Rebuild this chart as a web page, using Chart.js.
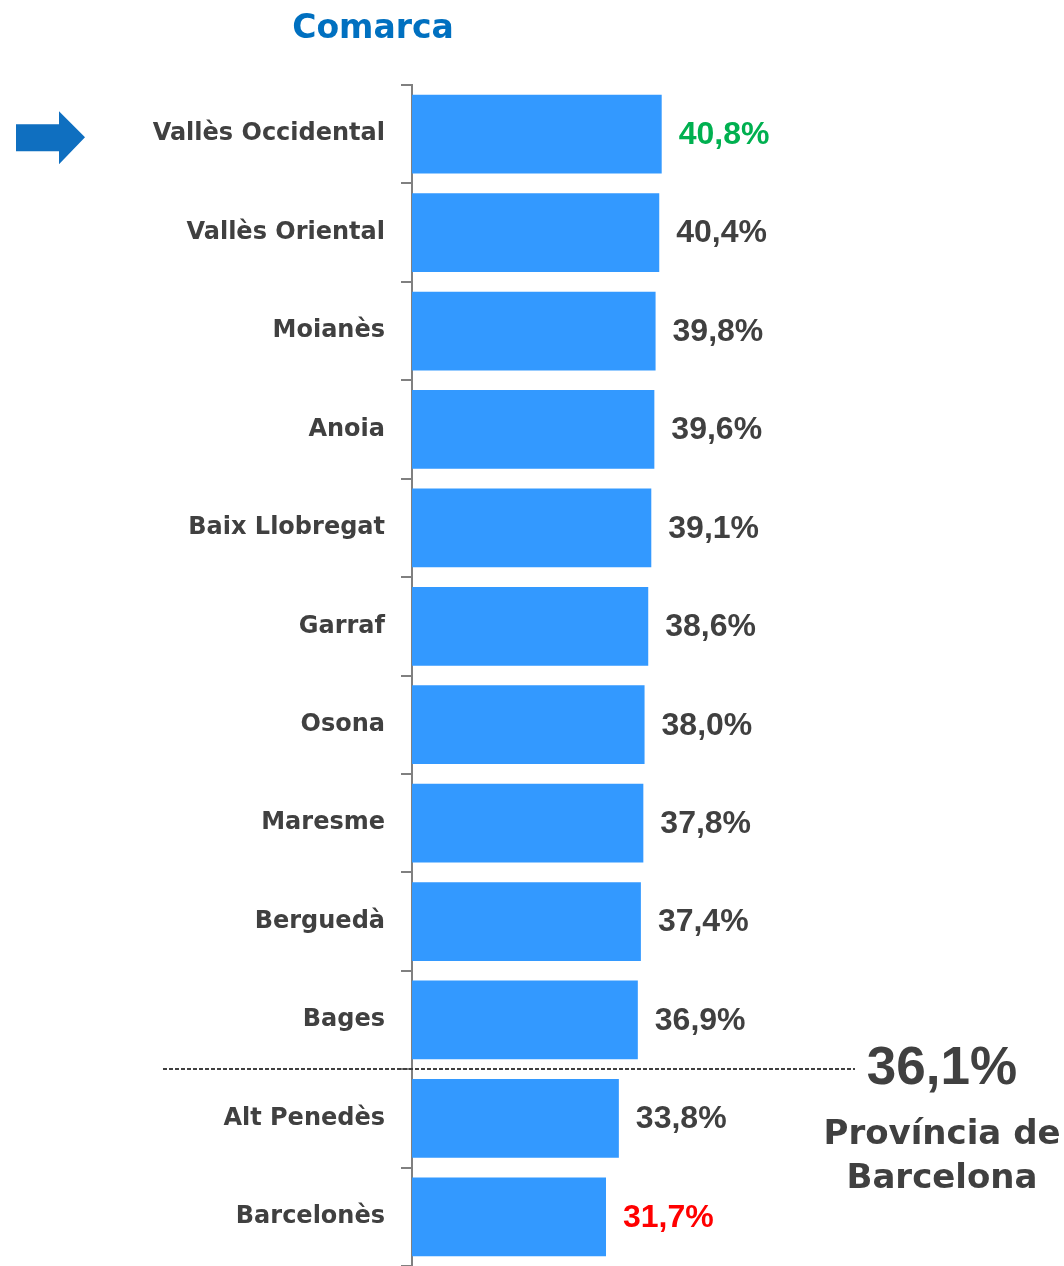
<!DOCTYPE html>
<html><head><meta charset="utf-8">
<script src="https://cdn.jsdelivr.net/npm/chart.js@4/dist/chart.umd.min.js"></script>
<style>html,body{margin:0;padding:0;background:#fff;overflow:hidden}#wrap{width:1064px;height:1266px;position:relative}</style>
</head><body><div id="wrap"><canvas id="c" width="1064" height="1266"></canvas></div>
<script>
const categories = ['Vallès Occidental','Vallès Oriental','Moianès','Anoia','Baix Llobregat','Garraf','Osona','Maresme','Berguedà','Bages','Alt Penedès','Barcelonès'];
const values = [40.8, 40.4, 39.8, 39.6, 39.1, 38.6, 38.0, 37.8, 37.4, 36.9, 33.8, 31.7];
const titleText = 'Comarca';
const provinceValue = 36.1;
const provinceLabel = ['Província de', 'Barcelona'];
const highlightedCategory = 'Vallès Occidental';
const xMin = 0, xMax = 50;

const fmt = v => v.toFixed(1).replace('.', ',') + '%';

const overlay = {
  id: 'overlay',
  afterDatasetsDraw(chart) {
    const ctx = chart.ctx;
    const meta = chart.getDatasetMeta(0);
    const ys = chart.scales.y;
    const maxV = Math.max(...values), minV = Math.min(...values);
    ctx.save();
    // value labels
    ctx.font = 'bold 32px "Liberation Sans", Arial, sans-serif';
    ctx.textAlign = 'left'; ctx.textBaseline = 'middle';
    meta.data.forEach((bar, i) => {
      const v = values[i];
      ctx.fillStyle = v === maxV ? '#00B050' : (v === minV ? '#FF0000' : '#404040');
      ctx.fillText(fmt(v), bar.x + 17, bar.y + 1);
    });
    // province separator line
    const idx = values.findIndex(v => v < provinceValue);
    const lineY = Math.round((ys.getPixelForValue(idx - 1) + ys.getPixelForValue(idx)) / 2);
    ctx.strokeStyle = '#404040'; ctx.lineWidth = 2; ctx.setLineDash([4, 2]);
    ctx.beginPath(); ctx.moveTo(163, lineY); ctx.lineTo(855, lineY); ctx.stroke();
    ctx.setLineDash([]);
    ctx.fillStyle = '#404040'; ctx.textAlign = 'center'; ctx.textBaseline = 'alphabetic';
    ctx.font = 'bold 53px "Liberation Sans", Arial, sans-serif';
    ctx.fillText(fmt(provinceValue), 942, lineY + 15);
    ctx.font = 'bold 34px "DejaVu Sans", sans-serif';
    ctx.fillText(provinceLabel[0], 942, lineY + 75);
    ctx.fillText(provinceLabel[1], 942, lineY + 119);
    // title
    ctx.fillStyle = '#0070C0';
    ctx.font = 'bold 33px "DejaVu Sans", sans-serif';
    ctx.fillText(titleText, 373, 38);
    // arrow pointing at highlighted category
    const hi = categories.indexOf(highlightedCategory);
    const cy = ys.getPixelForValue(hi) + 3;
    ctx.fillStyle = '#0F6FC0';
    ctx.beginPath();
    ctx.moveTo(16, cy - 13); ctx.lineTo(59, cy - 13); ctx.lineTo(59, cy - 26);
    ctx.lineTo(85, cy); ctx.lineTo(59, cy + 27); ctx.lineTo(59, cy + 14);
    ctx.lineTo(16, cy + 14); ctx.closePath(); ctx.fill();
    ctx.restore();
  }
};

new Chart(document.getElementById('c'), {
  type: 'bar',
  data: {
    labels: categories,
    datasets: [{ data: values, backgroundColor: '#3399FF', borderWidth: 0, barPercentage: 0.8, categoryPercentage: 1.0 }]
  },
  options: {
    indexAxis: 'y',
    responsive: false,
    animation: false,
    layout: { padding: { top: 85, right: 346, bottom: 0, left: 0 } },
    plugins: { legend: { display: false }, tooltip: { enabled: false } },
    scales: {
      x: { type: 'linear', min: xMin, max: xMax, display: false },
      y: {
        type: 'category', offset: true,
        grid: { display: true, drawOnChartArea: false, drawTicks: true, tickLength: 11, color: '#808080', lineWidth: 2, offset: true },
        border: { display: true, color: '#808080', width: 2 },
        ticks: { font: { family: '"DejaVu Sans", sans-serif', size: 24, weight: 'bold' }, color: '#404040', padding: 16, autoSkip: false },
        afterFit(s) { s.width = 412; s.paddingTop = 0; s.paddingBottom = 0; }
      }
    }
  },
  plugins: [overlay]
});
</script></body></html>
